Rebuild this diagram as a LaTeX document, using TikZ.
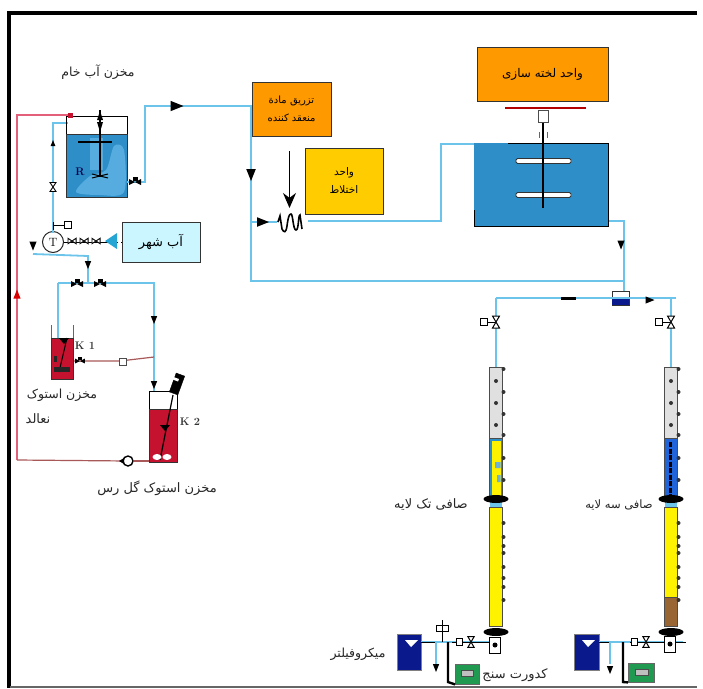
\documentclass[tikz,border=0pt]{standalone}
\usepackage{fontspec}
\usepackage{xcolor}
\usepackage{tikz}
\usetikzlibrary{positioning,arrows.meta,shapes.geometric,calc}
\newfontfamily\arabicfont[Script=Arabic]{DejaVu Sans}
\TeXXeTstate=1
\newcommand{\fatext}[1]{{\arabicfont\beginR #1\endR}}
\definecolor{pipeblue}{HTML}{6CC4EA}
\definecolor{tankblue}{HTML}{2E8FC8}
\definecolor{patchblue}{HTML}{56ACDF}
\definecolor{stockred}{HTML}{C4122F}
\definecolor{navytank}{HTML}{0A1A8C}
\definecolor{meter}{HTML}{1F9A50}
\definecolor{boxorange}{HTML}{FF9900}
\definecolor{boxyellow}{HTML}{FFCC00}
\definecolor{cityblue}{HTML}{CCF6FF}
\definecolor{redline}{HTML}{E4607A}
\definecolor{brownline}{HTML}{A85858}
\tikzset{
  valve/.pic={\draw[black,fill=white,line width=0.9pt] (-4.5,-3)--(4.5,3)--(4.5,-3)--(-4.5,3)--cycle;},
  ballvalve/.pic={\fill[black] (-6,-3)--(6,3)--(6,-3)--(-6,3)--cycle; \fill[black] (-2.5,-5) rectangle (2.5,-1);},
  flowtip/.pic={\fill (-4,-5)--(4,-5)--(0,5)--cycle;},
  handvalve/.pic={\draw[black,fill=white,line width=1pt] (-16,-3.5) rectangle (-9,3.5); \draw[black,line width=1pt] (-9,0)--(0,0); \draw[black,fill=white,line width=1pt] (-3.5,-6)--(3.5,6)--(-3.5,6)--(3.5,-6)--cycle;},
}
\begin{document}
\begin{tikzpicture}[x=1pt,y=-1pt,
    pipe/.style={draw=pipeblue, line width=2.6pt},
    thinpipe/.style={draw=pipeblue, line width=1.8pt},
    redpipe/.style={draw=redline, line width=1.4pt},
    brownpipe/.style={draw=brownline, line width=1.2pt},
    unit/.style={rectangle, draw=black!80, line width=1pt, inner sep=0pt, align=center, font=\arabicfont\fontsize{#1}{18}\selectfont},
    tank/.style={rectangle, draw=black!80, line width=1pt, inner sep=0pt},
    column/.style={rectangle, draw=black!70, line width=0.8pt, inner sep=0pt, minimum width=13, anchor=north},
    flange/.style={ellipse, fill=black, inner sep=0pt, minimum width=25, minimum height=8},
    lbl/.style={inner sep=0pt, text=black!85, font=\arabicfont\fontsize{#1}{18}\selectfont, align=center},
    tag/.style={inner sep=0pt, text=black!80, font=\bfseries\fontsize{11}{11}\selectfont},
    sdot/.style={circle, fill=black!80, inner sep=0pt, minimum size=4}
  ]
    \useasboundingbox (0,0) rectangle (703,688);
    % frame
    \draw[line width=4pt] (697,13)--(9,13)--(9,688);
    \draw[black!60, line width=1.2pt] (10,687)--(697,687);

    % units
    \node[tank, fill=tankblue, minimum width=61, minimum height=63, anchor=north west] (rawtank) at (66,134) {};
    \fill[patchblue] plot[smooth cycle] coordinates {(76,192) (90,176) (106,170) (114,146) (124,150) (124,192) (100,195)};
    \fill[patchblue] (90,138) rectangle (103,170);
    \node[tag, text=black!70!blue] (rawtag) at (80,172) {R};
    \node[unit=13, fill=cityblue, minimum width=78, minimum height=40] (city) at (161,242) {\fatext{آب شهر}};
    \node[unit=10, fill=boxorange, minimum width=79, minimum height=54] (inject) at (291.5,109) {\fatext{تزریق مادة}\\\fatext{منعقد کننده}};
    \node[unit=10.5, fill=boxyellow, minimum width=78, minimum height=66] (mixing) at (344,181) {\fatext{واحد}\\\fatext{اختلاط}};
    \node[unit=12, fill=boxorange, minimum width=131, minimum height=54] (floc) at (542.5,74) {\fatext{واحد لخته سازی}};
    \node[rectangle, fill=tankblue, inner sep=0pt, minimum width=134, minimum height=83, anchor=north west] (floctank) at (474,143) {};
    \node[tank, fill=white, minimum width=17, minimum height=14] (splitter) at (620.5,298) {};
    \fill[navytank] (612,298) rectangle (629,305);
    \node[tank, fill=stockred, minimum width=22, minimum height=41, anchor=north west] (alum) at (51,338) {};
    \node[tag] (alumtag) at (85,346) {K 1};
    \node[tank, fill=stockred, minimum width=28, minimum height=53, anchor=north west] (clay) at (149,409) {};
    \node[tag] (claytag) at (190,422) {K 2};
    \node[circle, draw=black!85, fill=white, line width=1pt, inner sep=0pt, minimum size=21, font=\fontsize{12}{12}\selectfont] (feedpump) at (53,242) {T};
    \node[circle, draw=black, fill=white, line width=1.4pt, inner sep=0pt, minimum size=10] (claypump) at (128,461) {};

    % filter columns
    \node[column, fill=black!12, minimum height=71] (singletop) at (496,367) {};
    \node[column, fill=tankblue, minimum height=60] (singlemid) at (496,438) {};
    \fill[yellow] (491.5,441) rectangle (500.5,497);
    \fill[tankblue!70] (495,462) rectangle (500.5,468) (497,475) rectangle (500.5,482);
    \node[column, fill=yellow, minimum height=119] (singlelow) at (496,507) {};
    \node[column, fill=black!12, minimum height=71] (triotop) at (671,367) {};
    \node[column, fill=tankblue!70!blue, minimum height=60] (triomid) at (671,438) {};
    \draw[black, line width=3.5pt, dash pattern=on 5pt off 1.5pt] (670.5,442)--(670.5,496);
    \node[column, fill=yellow, minimum height=90] (triolow) at (671,507) {};
    \node[column, fill=brown!80!black, minimum height=29] (triosand) at (671,597) {};
    \fill[pipeblue] (490,501) rectangle (502,507);
    \fill[pipeblue] (665,501) rectangle (677,507);
    \node[flange] (singleflange) at (496,499) {};
    \node[flange] (trioflange) at (671,499) {};
    \node[flange] (singlebase) at (496,632) {};
    \node[flange] (triobase) at (671,632) {};
    \foreach \col in {496,671}{
      \foreach \y in {381,403,425}{\node[sdot] at (\col,\y) {};}
      \foreach \y in {369,392,414,435,458,480,523,537,546,553,567,578,587,600}{\node[sdot] at (\col+7.5,\y) {};}
    }

    % outlets
    \node[rectangle, fill=navytank, draw=black!50, inner sep=0pt, minimum width=24, minimum height=36, anchor=north west] (singleout) at (397,634) {};
    \node[rectangle, fill=navytank, draw=black!50, inner sep=0pt, minimum width=25, minimum height=36, anchor=north west] (trioout) at (574,634) {};
    \fill[white] (405,640)--(418,640)--(411,647)--cycle;
    \fill[white] (582,640)--(595,640)--(588,647)--cycle;
    \node[rectangle, fill=meter, draw=black!60, inner sep=0pt, minimum width=24, minimum height=20, anchor=north west] (singlemeter) at (455,664) {};
    \node[rectangle, fill=meter, draw=black!60, inner sep=0pt, minimum width=26, minimum height=19, anchor=north west] (triometer) at (628,663) {};
    \draw[black!70, fill=black!25] (461,670) rectangle (473,676);
    \draw[black!70, fill=black!25] (635,669) rectangle (648,675);

    % pipe corners
    \coordinate (rawin) at (68,123);
    \coordinate (pumptop) at (53,233);
    \coordinate (rawout) at (127,182);
    \coordinate (rawriser) at (145,106);
    \coordinate (cityfeed) at (33,254);
    \coordinate (split) at (88,283);
    \coordinate (alumin) at (58,338);
    \coordinate (clayin) at (154,391);
    \coordinate (trunk) at (251,106);
    \coordinate (coilin) at (277,222);
    \coordinate (coilout) at (308,221);
    \coordinate (flocin) at (474,144);
    \coordinate (flocout) at (608,221);
    \coordinate (drop) at (624,291);
    \coordinate (bus) at (251,281);

    \draw[pipe] (pumptop) |- (rawin);
    \draw[pipe] (rawout) -| (rawriser) -- (trunk) -- (bus) -- (bus -| drop);
    \draw[pipe] (trunk |- coilin) -- (coilin);
    \draw[pipe] (coilout) -| (441,144) -- (flocin);
    \draw[pipe] (flocout) -| (drop);
    \draw[thinpipe] (cityfeed) -- (88,256) -- (split);
    \draw[pipe] (58,283) -- (154,283) -- (clayin);
    \draw[pipe] (58,283) -- (alumin);
    \draw[thinpipe] (496,298) -- (676,298);
    \draw[thinpipe] (496,298) -- (singletop.north);
    \draw[thinpipe] (671,298) -- (triotop.north);
    \draw[redpipe] (17,460) -- (17,115) -- (72,115);
    \draw[brownpipe] (17,460) -- (claypump);
    \draw[brownpipe] (claypump) -- (clay.west |- claypump);
    \draw[brownpipe] (alum.east |- 0,361) -- (120,361) -- (154,357);
    \draw[thinpipe] (singleout.east |- 0,642) -- (495,642);
    \draw[thinpipe] (trioout.east |- 0,642) -- (683,642);
    \draw[black, line width=0.8pt] (421,642) -- (436,642);
    \draw[black, line width=0.8pt] (599,642) -- (610,642);
    \draw[thinpipe] (436,642) -- (436,664);
    \draw[thinpipe] (610,642) -- (610,664);
    \draw[black, line width=2.4pt] (448,642) -- (448,682) -- (singlemeter.south west);
    \draw[black, line width=2.4pt] (623,642) -- (623,682) -- (triometer.south west);
    \draw[black, line width=0.8pt] (452,642) -- (495,642);
    \draw[black, line width=0.8pt] (630,642) -- (686,642);
    \draw[black, line width=0.9pt] (feedpump.east) -- (city.west);
    \fill[tankblue!80!cyan] (117,233)--(117,249)--(105,241)--cycle;
    \fill[white] (117.5,232) rectangle (121,250);
    \node[rectangle, draw=black, fill=white, line width=1pt, inner sep=0pt, minimum width=11, minimum height=16] (singlebox) at (495,645) {};
    \node[rectangle, draw=black, fill=white, line width=1pt, inner sep=0pt, minimum width=11, minimum height=16] (triobox) at (670,644) {};
    \fill[black] (singlebox) circle (2.5);
    \fill[black] (triobox) circle (2.5);

    % raw water tank and its mixer
    \draw[black, line width=0.8pt] (66,134) -- (66,116) -- (127,116) -- (127,134);
    \draw[black, line width=1.4pt] (100,110) -- (100,177);
    \draw[black, line width=1.4pt] (78,142) -- (112,142);
    \draw[black, line width=1pt] (92,178) -- (108,174) (92,174) -- (108,178);
    \fill[black] (97,122)--(103,122)--(100,132)--cycle;
    \fill[black] (97,120)--(103,120)--(100,111)--cycle;
    \fill[stockred] (68,113) rectangle (73,118);

    % coil, feed arrow, flocculator
    \draw[black, line width=1.6pt] (278,222) -- (280,216) -- (282,229) .. controls (284,233) and (286,233) .. (287,226)
      .. controls (288,218) and (289,214) .. (291,214) .. controls (293,214) and (293,230) .. (296,230)
      .. controls (299,230) and (298,215) .. (300,215) -- (302,229);
    \draw[-{Stealth[length=15pt,width=13pt]}, line width=1pt] (289.5,151) -- (289.5,208);
    \draw[draw=black, line width=1pt] (508,143) -- (608,143) -- (608,226) -- (474,226) -- (474,210);
    \draw[draw=red!70!black, line width=1.5pt] (505,108) -- (586,108);
    \draw[black, line width=2pt] (543,117) -- (543,208);
    \node[rectangle, draw=black!70, fill=white, inner sep=0pt, minimum width=10, minimum height=12] (bearing) at (543,116) {};
    \draw[black!60, line width=0.8pt] (539,132) -- (539,138) (547,132) -- (547,138);
    \foreach \y in {161,195}{
      \draw[black!80, fill=white, line width=0.9pt, rounded corners=1.5pt] (516,\y-2.5) rectangle (571,\y+2.5);
    }
    \draw[black, line width=1.2pt] (543,158) -- (543,164) (543,192) -- (543,198);

    % stock tanks
    \draw[black!60, line width=0.8pt] (51,338) -- (51,325) (73,338) -- (73,325);
    \draw[black, line width=1pt] (67,338) -- (59,372);
    \fill[black] (59,338)--(69,338)--(64,344)--cycle;
    \fill[black!85] (54,367) rectangle (70,372);
    \fill[black!85] (54,356) rectangle (57,362);
    \draw[black, line width=0.8pt] (149,409) -- (149,391) -- (177,391) -- (177,409);
    \draw[black, line width=1.2pt] (173,395) -- (160,460);
    \node[rectangle, draw=black, fill=black, inner sep=0pt, minimum width=9, minimum height=20, rotate=-20] (claymotor) at (177,384) {};
    \fill[white] (173.5,377) -- (179,379) -- (178,381.5) -- (172.7,379.5) -- cycle;
    \fill[white] (157,457) ellipse (4.5 and 3);
    \fill[white] (167,457) ellipse (4.5 and 3);
    \fill[black] (160,425)--(170,425)--(165,431)--cycle;
    \node[rectangle, draw=black!70, fill=white, inner sep=0pt, minimum size=7] (alumcheck) at (123,362) {};
    \fill[black] (119,461) -- (124,458) -- (124,464) -- cycle;

    % valves and flow marks
    \pic at (53,187) [rotate=90] {valve};
    \pic at (135,182) {ballvalve};
    \pic at (80,361) [scale=0.8] {ballvalve};
    \pic at (77,284) {ballvalve};
    \pic at (100,284) {ballvalve};
    \pic at (72,241) [scale=0.9] {valve};
    \pic at (84,241) [scale=0.9] {valve};
    \pic at (96,241) [scale=0.9] {valve};
    \draw[black, line width=1pt] (53,222) -- (53,230) (53,225) -- (64,225);
    \draw[black, fill=white, line width=1pt] (64,221.5) rectangle (71,228.5);
    \pic at (53,143) [rotate=180, scale=0.6] {flowtip};
    \pic at (177,106) [rotate=90, scale=1.3] {flowtip};
    \pic at (33,246) [scale=0.9] {flowtip};
    \pic at (88,265) [scale=0.8] {flowtip};
    \pic at (154,320) [scale=0.8] {flowtip};
    \pic at (154,385) [scale=0.8] {flowtip};
    \pic at (251,175) [scale=1.2] {flowtip};
    \pic at (263,222) [rotate=90, scale=1.2] {flowtip};
    \pic at (621,245) [scale=0.9] {flowtip};
    \pic at (650,300) [rotate=90, scale=0.9] {flowtip};
    \fill[black] (561,296.5) rectangle (576,299.5);
    \pic[red!85!black] at (17,294) [rotate=180, scale=0.9] {flowtip};
    \pic at (436,668) [scale=0.8] {flowtip};
    \pic at (610,670) [scale=0.8] {flowtip};
    \pic at (496,322) {handvalve};
    \pic at (671,322) {handvalve};
    \pic at (471,642) [scale=0.9] {handvalve};
    \pic at (646,642) [scale=0.9] {handvalve};
    \draw[black, line width=1pt, fill=white] (436,625) rectangle (448,631);
    \draw[black, line width=1pt] (442,620) -- (442,642);

    % labels
    \node[lbl=12.5] (rawlbl) at (98,72) {\fatext{مخزن آب خام}};
    \node[lbl=12.5] (alumlbl) at (62,395) {\fatext{مخزن استوک}};
    \node[lbl=13] (alumlbltwo) at (38,419) {\fatext{نعالد}};
    \node[lbl=13] (claylbl) at (157,488) {\fatext{مخزن استوک گل رس}};
    \node[lbl=13] (singlelbl) at (431,505) {\fatext{صافی تک لایه}};
    \node[lbl=11.5] (triolbl) at (619,505) {\fatext{صافی سه لایه}};
    \node[lbl=12.5] (microlbl) at (358,654) {\fatext{میکروفیلتر}};
    \node[lbl=13] (turblbl) at (515,675) {\fatext{کدورت سنج}};
\end{tikzpicture}
\end{document}
